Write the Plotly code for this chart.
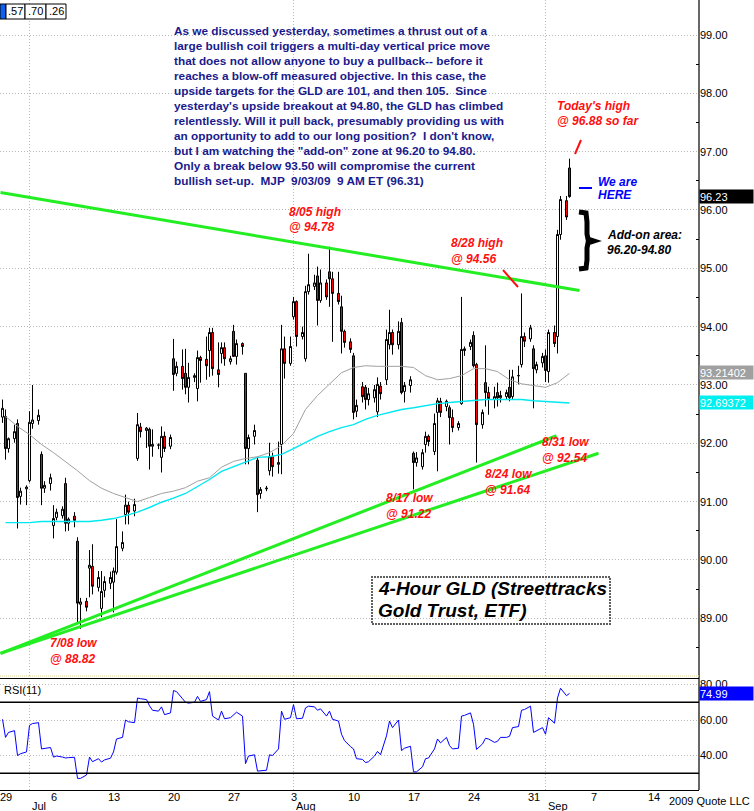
import plotly.graph_objects as go

# ---------------- data ----------------
DAY_TICK_POS = [0, 4, 9, 14, 19, 24, 29, 34, 39, 44, 49, 54]
DAY_TICK_TEXT = ["29", "6", "13", "20", "27", "3", "10", "17", "24", "31", "7", "14"]
MONTH_START_POS = [2, 24, 45]
MONTH_TEXT = ["Jul", "Aug", "Sep"]

OPEN = [92.45, 92.46, 91.91, 92.08, 92.34, 91.09, 91.22, 91.36, 92.34, 92.39, 91.81, 91.23,
        91.31, 90.59, 90.73, 90.76, 91.31, 90.63, 90.75, 90.32, 89.24, 89.29, 89.86, 89.89,
        89.53, 89.17, 89.48, 89.60, 89.62, 89.79, 90.20, 90.78, 90.94, 90.84, 91.74, 92.28,
        92.22, 92.24, 91.95, 91.97, 91.76, 92.12, 91.95, 93.45, 93.20, 93.32, 93.20, 92.96,
        93.13, 92.94, 93.47, 93.44, 93.59, 93.90, 93.26, 93.54, 93.64, 93.40, 93.92, 93.49,
        93.71, 93.20, 91.91, 92.12, 91.71, 91.14, 91.22, 91.53, 91.77, 91.64, 91.98, 93.62,
        93.37, 94.17, 94.43, 93.83, 93.45, 94.60, 94.69, 94.87, 94.45, 94.75, 94.94, 94.82,
        94.57, 94.34, 93.92, 93.74, 93.50, 92.55, 92.97, 92.96, 92.75, 92.78, 92.54, 92.98,
        93.09, 93.69, 93.90, 93.69, 94.07, 92.89, 92.99, 91.83, 91.67, 91.60, 91.98, 92.12,
        91.86, 92.53, 92.72, 92.63, 92.61, 92.44, 92.27, 92.68, 93.59, 93.66, 93.85, 93.35,
        92.32, 93.04, 92.87, 92.75, 92.87, 92.78, 92.80, 92.96, 92.80, 93.16, 93.35, 93.83,
        93.79, 93.62, 93.26, 93.38, 93.50, 93.23, 93.90, 93.83, 95.58, 96.16, 96.72]
HIGH = [92.75, 92.58, 92.10, 92.32, 92.41, 91.24, 91.28, 92.55, 93.00, 92.58, 91.86, 91.35,
        91.48, 90.94, 90.88, 90.92, 91.41, 90.73, 90.82, 90.39, 89.35, 89.35, 90.17, 90.27,
        89.81, 89.81, 89.72, 89.80, 89.87, 90.70, 90.49, 91.12, 91.00, 91.05, 92.52, 92.35,
        92.28, 92.27, 92.24, 92.00, 92.29, 92.20, 92.15, 93.79, 93.40, 93.61, 93.62, 93.38,
        93.20, 93.59, 93.50, 93.83, 93.98, 93.98, 93.73, 93.73, 93.73, 93.50, 94.03, 93.78,
        93.73, 93.20, 92.15, 92.32, 91.77, 91.25, 91.27, 92.01, 91.84, 92.03, 94.03, 93.83,
        93.83, 94.51, 94.45, 94.00, 94.70, 95.25, 94.89, 95.03, 94.98, 94.81, 95.37, 94.94,
        94.94, 94.53, 93.95, 93.80, 93.55, 92.75, 93.05, 93.00, 92.95, 93.00, 93.13, 93.05,
        93.95, 94.29, 93.95, 94.09, 94.15, 93.05, 93.15, 91.86, 91.85, 91.90, 92.20, 92.15,
        92.51, 92.78, 92.78, 92.75, 92.65, 92.58, 92.38, 94.51, 93.66, 93.78, 93.92, 93.38,
        92.58, 93.68, 92.97, 92.97, 93.04, 92.90, 92.92, 93.26, 93.26, 93.33, 94.57, 93.90,
        94.03, 93.68, 93.40, 93.55, 93.61, 93.95, 94.02, 95.66, 96.24, 96.24, 96.88]
LOW = [92.35, 91.72, 91.84, 92.01, 90.54, 90.95, 90.94, 91.33, 92.25, 92.32, 90.94, 91.15,
       91.19, 90.37, 90.68, 90.71, 90.49, 90.50, 90.56, 88.90, 88.82, 89.12, 89.36, 89.41,
       89.46, 89.02, 89.36, 89.50, 89.10, 89.75, 90.15, 90.61, 90.61, 90.75, 91.70, 92.10,
       91.92, 91.55, 91.77, 91.90, 91.50, 91.85, 91.90, 92.90, 93.15, 92.92, 92.84, 92.70,
       93.05, 92.72, 93.04, 93.09, 93.14, 93.16, 92.96, 93.37, 93.33, 93.35, 93.49, 93.35,
       93.52, 91.64, 91.64, 91.98, 90.82, 91.05, 91.18, 91.45, 91.43, 91.48, 91.47, 93.11,
       93.33, 94.12, 93.66, 93.78, 93.40, 94.55, 94.63, 94.02, 94.41, 94.46, 94.34, 93.74,
       94.38, 93.54, 93.64, 93.55, 92.41, 92.45, 92.70, 92.58, 92.65, 92.70, 92.45, 92.75,
       93.00, 93.61, 93.52, 93.61, 92.84, 92.70, 92.87, 91.21, 91.60, 91.55, 91.84, 91.95,
       91.80, 91.52, 92.45, 92.55, 91.98, 92.19, 92.22, 92.66, 93.50, 93.60, 93.30, 91.67,
       92.25, 92.63, 92.49, 92.60, 92.63, 92.70, 92.75, 92.72, 92.75, 93.01, 93.30, 93.65,
       93.74, 92.60, 93.20, 93.30, 93.05, 93.04, 93.65, 93.54, 95.49, 95.83, 96.21]
CLOSE = [92.60, 91.91, 92.08, 92.20, 91.07, 91.18, 91.25, 92.36, 92.40, 92.48, 91.23, 91.28,
         91.41, 90.71, 90.82, 90.87, 90.63, 90.70, 90.68, 89.26, 89.28, 89.19, 89.91, 89.55,
         89.70, 89.46, 89.63, 89.70, 89.81, 90.23, 90.30, 90.94, 90.82, 90.95, 92.32, 92.20,
         92.26, 91.95, 91.98, 91.97, 92.12, 91.91, 92.10, 93.18, 93.32, 93.11, 92.96, 93.13,
         93.16, 93.47, 93.42, 93.33, 93.90, 93.28, 93.18, 93.64, 93.45, 93.45, 93.49, 93.71,
         93.66, 91.91, 92.10, 92.22, 91.12, 91.21, 91.23, 91.77, 91.60, 91.67, 93.62, 93.37,
         93.66, 94.43, 93.83, 93.90, 94.60, 94.72, 94.75, 94.45, 94.75, 94.51, 94.82, 94.57,
         94.43, 93.92, 93.73, 93.61, 92.53, 92.65, 92.80, 92.75, 92.85, 92.92, 93.01, 92.85,
         93.78, 93.90, 93.69, 93.92, 92.87, 92.99, 93.09, 91.67, 91.75, 91.84, 92.12, 92.03,
         92.34, 92.73, 92.53, 92.72, 92.44, 92.27, 92.34, 93.61, 93.62, 93.73, 93.33, 92.32,
         92.53, 92.87, 92.77, 92.80, 92.78, 92.82, 92.87, 92.78, 93.14, 93.16, 93.83, 93.75,
         93.98, 93.28, 93.35, 93.49, 93.25, 93.90, 93.71, 95.58, 96.18, 95.88, 96.23]
RSI = [60.4, 50.2, 53.0, 54.0, 40.0, 41.0, 42.0, 57.0, 58.0, 58.5, 43.7, 44.0,
       44.5, 39.1, 39.7, 39.1, 38.6, 38.8, 39.0, 27.1, 27.1, 29.0, 39.1, 36.5,
       38.2, 36.3, 37.5, 38.5, 42.0, 49.3, 50.2, 60.0, 59.0, 58.5, 72.4, 72.0,
       71.5, 68.0, 65.5, 65.0, 67.4, 63.0, 64.0, 76.6, 76.0, 72.0, 70.0, 69.5,
       70.0, 73.3, 70.5, 71.5, 76.0, 62.2, 60.0, 65.0, 60.7, 61.3, 63.0, 64.4,
       62.2, 35.4, 39.7, 40.4, 31.2, 31.5, 31.7, 40.4, 40.0, 43.7, 65.0, 60.4,
       61.3, 68.7, 60.7, 61.0, 66.8, 67.8, 67.4, 65.5, 66.3, 62.2, 65.0, 60.4,
       59.4, 52.0, 48.4, 45.0, 43.7, 38.2, 37.8, 36.0, 36.5, 39.7, 42.3, 40.4,
       51.1, 59.4, 55.7, 60.0, 42.8, 44.1, 45.2, 30.8, 30.8, 33.6, 38.2, 38.6,
       43.7, 49.3, 47.1, 50.2, 45.6, 43.7, 44.1, 62.2, 62.6, 64.0, 57.6, 43.4,
       46.5, 49.7, 49.3, 47.4, 48.0, 50.2, 50.2, 50.8, 55.7, 56.3, 65.5, 65.9,
       67.8, 53.0, 54.0, 55.7, 52.0, 61.3, 58.2, 72.4, 77.9, 73.7, 74.99]
MA_GRAY = [92.46, 92.29, 92.15, 91.98, 91.84, 91.69, 91.53, 91.36, 91.23, 91.14, 91.07, 91.00,
           91.07, 91.14, 91.18, 91.24, 91.35, 91.41, 91.59, 91.69, 91.74, 91.77, 91.84, 91.96,
           92.17, 92.58, 92.82, 93.02, 93.21, 93.30, 93.33, 93.32, 93.32, 93.32, 93.30, 93.16,
           93.09, 93.11, 93.16, 93.28, 93.28, 93.23, 93.09, 93.02, 92.99, 92.96, 93.04, 93.20]
MA_CYAN = [90.64, 90.64, 90.64, 90.66, 90.66, 90.66, 90.66, 90.66, 90.68, 90.71, 90.76, 90.82,
           90.90, 90.99, 91.06, 91.14, 91.26, 91.38, 91.52, 91.60, 91.69, 91.76, 91.77, 91.81,
           91.91, 92.01, 92.12, 92.20, 92.27, 92.32, 92.41, 92.48, 92.53, 92.58, 92.61, 92.65,
           92.68, 92.70, 92.72, 92.73, 92.75, 92.75, 92.75, 92.75, 92.73, 92.72, 92.70, 92.69]
MA_GRAY_LABEL = "93.21402"
MA_CYAN_LABEL = "92.69372"

TREND_RES_X, TREND_RES_Y = [-0.4167, 47.83], [96.30, 94.62]
TREND_SUP1_X, TREND_SUP1_Y = [-0.4167, 45.92], [88.40, 92.13]
TREND_SUP2_X, TREND_SUP2_Y = [-0.4167, 49.42], [88.40, 91.83]

PRICE_TICKS = [89, 90, 91, 92, 93, 94, 95, 96, 97, 98, 99]
RSI_TICKS = [40, 60, 80]

NOTE_LINES = [
    "As we discussed yesterday, sometimes a thrust out of a",
    "large bullish coil triggers a multi-day vertical price move",
    "that does not allow anyone to buy a pullback-- before it",
    "reaches a blow-off measured objective. In this case, the",
    "upside targets for the GLD are 101, and then 105.  Since",
    "yesterday's upside breakout at 94.80, the GLD has climbed",
    "relentlessly. Will it pull back, presumably providing us with",
    "an opportunity to add to our long position?  I don't know,",
    "but I am watching the \"add-on\" zone at 96.20 to 94.80.",
    "Only a break below 93.50 will compromise the current",
    "bullish set-up.  MJP  9/03/09  9 AM ET (96.31)",
]

# ---------------- geometry helpers ----------------
W, H = 754, 811
MR, MB = 55, 21
PW, PH = W - MR, H - MB
PRICE_BOTTOM_PX, RSI_TOP_PX = 676, 679
FONT = "Liberation Sans, Arial, sans-serif"


def PX(x):
    return x / PW


def PY(y):
    return 1 - y / PH


x_bar = [i // 3 + (i % 3 - 1) * 0.25 for i in range(len(OPEN))]
x_day = list(range(len(MA_GRAY)))

fig = go.Figure()

fig.add_trace(go.Scatter(x=x_day, y=MA_CYAN, mode="lines", line=dict(color="#00E8F0", width=1.4),
                         xaxis="x", yaxis="y", hoverinfo="skip"))
fig.add_trace(go.Scatter(x=x_day, y=MA_GRAY, mode="lines", line=dict(color="#A0A0A0", width=1),
                         xaxis="x", yaxis="y", hoverinfo="skip"))
fig.add_trace(go.Candlestick(
    x=x_bar, open=OPEN, high=HIGH, low=LOW, close=CLOSE, xaxis="x", yaxis="y",
    increasing=dict(line=dict(color="black", width=1), fillcolor="white"),
    decreasing=dict(line=dict(color="black", width=1), fillcolor="#FF0000"),
    whiskerwidth=0, hoverinfo="skip"))
for tx, ty in [(TREND_RES_X, TREND_RES_Y), (TREND_SUP1_X, TREND_SUP1_Y), (TREND_SUP2_X, TREND_SUP2_Y)]:
    fig.add_trace(go.Scatter(x=tx, y=ty, mode="lines", line=dict(color="#22EE22", width=3),
                             xaxis="x", yaxis="y", hoverinfo="skip"))
fig.add_trace(go.Scatter(x=x_bar, y=RSI, mode="lines", line=dict(color="#0000FF", width=1),
                         xaxis="x", yaxis="y2", hoverinfo="skip"))

grid = dict(showgrid=True, gridcolor="#B8B8B8", griddash="1px,2px", gridwidth=1)
fig.update_layout(
    width=W, height=H, margin=dict(l=0, r=MR, t=0, b=MB, autoexpand=False),
    paper_bgcolor="white", plot_bgcolor="white", showlegend=False,
    boxgap=1 / 3, boxgroupgap=0,
    font=dict(family=FONT, size=11, color="black"),
    xaxis=dict(domain=[0, 1], range=[-5.5 / 12, 693.5 / 12], anchor="y2", automargin=False,
               showticklabels=False, showgrid=False, zeroline=False, showline=True,
               linecolor="black", linewidth=1, mirror=True, ticks="",
               rangeslider=dict(visible=False)),
    yaxis=dict(domain=[PY(PRICE_BOTTOM_PX), 1], range=[88.011, 99.60], side="right", anchor="x",
               automargin=False,
               tickmode="array", tickvals=PRICE_TICKS, ticktext=[f"{v:.2f}" for v in PRICE_TICKS],
               zeroline=False, showline=False, ticks="", tickfont=dict(size=11),
               minor=dict(tickvals=[v + 0.5 for v in range(88, 99)], ticks="inside", ticklen=3,
                          tickcolor="black", showgrid=False),
               **grid),
    yaxis2=dict(domain=[0, PY(RSI_TOP_PX)], range=[20.56, 83.1], side="right", anchor="x",
                automargin=False,
                tickmode="array", tickvals=RSI_TICKS, ticktext=[f"{v:.2f}" for v in RSI_TICKS],
                zeroline=False, showline=False, ticks="", tickfont=dict(size=11), **grid),
)

shapes = []
# month separators
for d in MONTH_START_POS:
    shapes.append(dict(type="line", xref="x", yref="paper", x0=d, x1=d, y0=0, y1=1,
                       line=dict(color="#B8B8B8", width=1, dash="1px,2px"), layer="below"))
# right axis line
shapes.append(dict(type="line", xref="paper", yref="paper", x0=1, x1=1, y0=0, y1=1,
                   line=dict(color="black", width=1.2)))
# price panel bottom dotted
shapes.append(dict(type="line", xref="paper", yref="paper", x0=0, x1=1, y0=PY(676), y1=PY(676),
                   line=dict(color="#E0D890", width=1, dash="1px,1px")))
# RSI 70 / 30 lines
for lv in (70, 30):
    shapes.append(dict(type="line", xref="paper", yref="y2", x0=0, x1=1, y0=lv, y1=lv,
                       line=dict(color="black", width=1.5)))
# red slashes
shapes.append(dict(type="line", xref="paper", yref="paper", x0=PX(503), y0=PY(270), x1=PX(518),
                   y1=PY(287), line=dict(color="#FF1010", width=2)))
shapes.append(dict(type="line", xref="paper", yref="paper", x0=PX(575), y0=PY(154), x1=PX(581),
                   y1=PY(140), line=dict(color="#FF1010", width=2)))
# blue dash
shapes.append(dict(type="line", xref="paper", yref="paper", x0=PX(579), y0=PY(188), x1=PX(592),
                   y1=PY(188), line=dict(color="#0000FF", width=2)))
# curly brace
pts = [(579, 212), (586, 213), (587, 222), (587, 234), (588, 239), (594, 241),
       (588, 243), (587, 248), (587, 260), (586, 268), (579, 269)]
path = "M " + " L ".join(f"{PX(a):.5f},{PY(b):.5f}" for a, b in pts)
shapes.append(dict(type="path", xref="paper", yref="paper", path=path,
                   line=dict(color="black", width=5)))
# title box
shapes.append(dict(type="rect", xref="paper", yref="paper", x0=PX(372), x1=PX(610), y0=PY(624),
                   y1=PY(577), line=dict(color="#606060", width=2, dash="2px,1px"),
                   fillcolor="rgba(0,0,0,0)"))
# OHLC header box
shapes.append(dict(type="rect", xref="paper", yref="paper", x0=0, x1=PX(6), y0=PY(19), y1=PY(4),
                   line=dict(color="black", width=1), fillcolor="#1060F0"))
for a, b in [(6, 25), (25, 46), (46, 66)]:
    shapes.append(dict(type="rect", xref="paper", yref="paper", x0=PX(a), x1=PX(b), y0=PY(19),
                       y1=PY(4), line=dict(color="black", width=1), fillcolor="white"))
fig.update_layout(shapes=shapes)

ann = []


def text(x, y, s, size=12, color="black", anchor="left", xref="paper", yref="paper", **kw):
    ann.append(dict(x=x, y=y, xref=xref, yref=yref, text=s, showarrow=False, xanchor=anchor,
                    yanchor="middle", font=dict(family=FONT, size=size, color=color), **kw))


for k, line in enumerate(NOTE_LINES):
    text(PX(172), PY(30.7 + 15 * k), f"<b>{line}</b>", size=11.8, color="#1A1A8C")

RED = "#FF1010"
for (x, y1, l1, l2) in [(555, 106, "Today's high", "@ 96.88 so far"),
                        (287, 212, "8/05 high", "@ 94.78"),
                        (449, 243, "8/28 high", "@ 94.56"),
                        (540, 442, "8/31 low", "@ 92.54"),
                        (483, 474, "8/24 low", "@ 91.64"),
                        (384, 498, "8/17 low", "@ 91.22"),
                        (48, 643, "7/08 low", "@ 88.82")]:
    text(PX(x), PY(y1), f"<b><i>{l1}</i></b>", size=12, color=RED)
    text(PX(x), PY(y1 + 15.5), f"<b><i>{l2}</i></b>", size=12, color=RED)

text(PX(596), PY(182), "<b><i>We are</i></b>", size=12, color="#0000FF")
text(PX(596), PY(195), "<b><i>HERE</i></b>", size=12, color="#0000FF")
text(PX(605), PY(235), "<b><i>Add-on area:</i></b>", size=12)
text(PX(605), PY(250), "<b><i>96.20-94.80</i></b>", size=12)
text(PX(376), PY(588), "<b><i>4-Hour GLD (Streettracks</i></b>", size=19)
text(PX(376), PY(610), "<b><i>Gold Trust, ETF)</i></b>", size=19)

text(PX(2), PY(690), "RSI(11)", size=11)
text(PX(752), PY(801), "2009 Quote LLC", size=11, anchor="right")
for d, s in zip(DAY_TICK_POS, DAY_TICK_TEXT):
    ann.append(dict(x=d, y=PY(797), xref="x", yref="paper", text=s, showarrow=False,
                    xanchor="center", yanchor="middle", font=dict(family=FONT, size=11)))
for d, m in zip(MONTH_START_POS, MONTH_TEXT):
    ann.append(dict(x=d, y=PY(806), xref="x", yref="paper", text=m, showarrow=False,
                    xanchor="left", yanchor="middle", xshift=0, font=dict(family=FONT, size=11)))

# header values
for (a, b), s in zip([(6, 25), (25, 46), (46, 66)], [".57", ".70", ".26"]):
    text(PX((a + b) / 2), PY(11.5), s, size=11, anchor="center")


def value_box(y, yref, s, bg):
    ann.append(dict(x=1, y=y, xref="paper", yref=yref, text=s, showarrow=False, xanchor="left",
                    yanchor="middle", align="left", width=53, height=13, bgcolor=bg, borderpad=0,
                    font=dict(family=FONT, size=11, color="white")))


value_box(CLOSE[-1], "y", f"{CLOSE[-1]:.2f}", "black")
value_box(float(MA_GRAY_LABEL), "y", MA_GRAY_LABEL, "#A0A0A0")
value_box(float(MA_CYAN_LABEL), "y", MA_CYAN_LABEL, "#00F0F0")
value_box(RSI[-1], "y2", f"{RSI[-1]:.2f}", "#0000FF")

fig.update_layout(annotations=ann)
fig.write_html("out.html", config={"displayModeBar": False},
               post_script="document.body.style.margin='0';document.body.style.overflow='hidden';")
